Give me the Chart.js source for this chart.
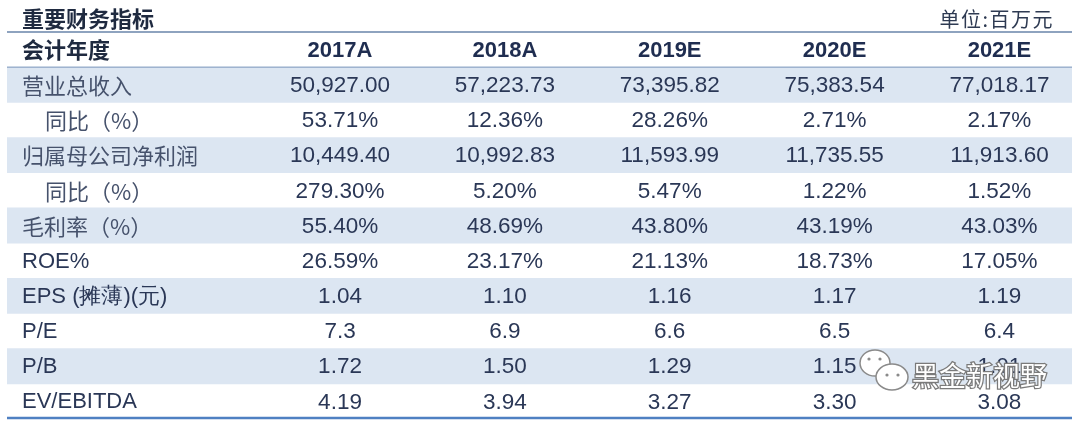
<!DOCTYPE html>
<html>
<head>
<meta charset="utf-8">
<script src="https://cdn.jsdelivr.net/npm/chart.js@4/dist/chart.umd.min.js"></script>
<style>
  html, body { margin: 0; padding: 0; background: #fff; }
</style>
</head>
<body>
<canvas id="myChart" width="1080" height="423"></canvas>
<script>
// table data
const title = '重要财务指标';
const unit = '单位:百万元';
const headLabel = '会计年度';
const years = ['2017A', '2018A', '2019E', '2020E', '2021E'];
const rowLabels = ['营业总收入', '同比（%）', '归属母公司净利润', '同比（%）', '毛利率（%）',
  'ROE%', 'EPS (摊薄)(元)', 'P/E', 'P/B', 'EV/EBITDA'];
const indented = [false, true, false, true, false, false, false, false, false, false];

const revenue = [50927.00, 57223.73, 73395.82, 75383.54, 77018.17];
const revenueYoY = [53.71, 12.36, 28.26, 2.71, 2.17];
const netProfit = [10449.40, 10992.83, 11593.99, 11735.55, 11913.60];
const netProfitYoY = [279.30, 5.20, 5.47, 1.22, 1.52];
const grossMargin = [55.40, 48.69, 43.80, 43.19, 43.03];
const roe = [26.59, 23.17, 21.13, 18.73, 17.05];
const eps = [1.04, 1.10, 1.16, 1.17, 1.19];
const pe = [7.3, 6.9, 6.6, 6.5, 6.4];
const pb = [1.72, 1.50, 1.29, 1.15, 1.01];
const evEbitda = [4.19, 3.94, 3.27, 3.30, 3.08];

const rowValues = [revenue, revenueYoY, netProfit, netProfitYoY, grossMargin, roe, eps, pe, pb, evEbitda];
const rowDecimals = [2, 2, 2, 2, 2, 2, 2, 1, 2, 2];
const rowPercent = [false, true, false, true, true, true, false, false, false, false];
const shadedRows = [true, false, true, false, true, false, true, false, true, false];

// x value range: label column on the left, year j sits at x = j + 1
const X_MIN = -1.02;
const X_MAX = 5.44;

const rowKeys = ['head'].concat(rowLabels.map((l, i) => 'r' + i));

function fmt(v, d, pct) {
  const s = v.toLocaleString('en-US', { minimumFractionDigits: d, maximumFractionDigits: d });
  return pct ? s + '%' : s;
}

const tablePlugin = {
  id: 'tableText',
  afterDatasetsDraw(chart) {
    const { ctx, chartArea, scales } = chart;
    const x = scales.x, y = scales.y;
    const left = chartArea.left, right = chartArea.right;
    const rowH = y.getPixelForValue(1) - y.getPixelForValue(0);
    ctx.save();

    // title + unit
    ctx.textBaseline = 'middle';
    ctx.fillStyle = '#1f2a40';
    ctx.font = 'bold 22px "Noto Sans CJK SC"';
    ctx.textAlign = 'left';
    ctx.fillText(title, left + 15, chartArea.top - 13);
    ctx.fillStyle = '#2e3a52';
    ctx.font = '20px "Noto Sans CJK SC"';
    ctx.letterSpacing = '1.5px';
    ctx.textAlign = 'right';
    ctx.fillText(unit, right - 18, chartArea.top - 13);
    ctx.letterSpacing = '0px';

    // rules
    ctx.strokeStyle = '#8ea3bf';
    ctx.lineWidth = 2;
    ctx.beginPath();
    ctx.moveTo(left, chartArea.top); ctx.lineTo(right, chartArea.top);
    ctx.stroke();
    ctx.strokeStyle = '#9fb3cf';
    ctx.lineWidth = 1.5;
    const headBottom = y.getPixelForValue(0) + rowH / 2;
    ctx.beginPath();
    ctx.moveTo(left, headBottom); ctx.lineTo(right, headBottom);
    ctx.stroke();
    ctx.strokeStyle = '#4f80c2';
    ctx.lineWidth = 2.5;
    ctx.beginPath();
    ctx.moveTo(left, chartArea.bottom - 1); ctx.lineTo(right, chartArea.bottom - 1);
    ctx.stroke();

    // header row
    const hy = y.getPixelForValue(0);
    ctx.fillStyle = '#1f2a40';
    ctx.font = 'bold 22px "Noto Sans CJK SC"';
    ctx.textAlign = 'left';
    ctx.fillText(headLabel, left + 15, hy);
    ctx.fillStyle = '#1f2d50';
    ctx.font = 'bold 22px "Liberation Sans"';
    ctx.textAlign = 'center';
    years.forEach((yr, j) => ctx.fillText(yr, x.getPixelForValue(j + 1), hy + 1));

    // body rows
    rowLabels.forEach((lab, i) => {
      const py = y.getPixelForValue(i + 1);
      ctx.textAlign = 'left';
      const latin = /^[A-Z]/.test(lab);
      ctx.fillStyle = latin ? '#2a3756' : '#46526c';
      ctx.font = latin ? '22px "Liberation Sans"' : '22px "Noto Sans CJK SC"';
      ctx.fillText(lab, left + (indented[i] ? 38 : 15), py + 1);
      ctx.fillStyle = '#2a3756';
      ctx.font = '22.5px "Liberation Sans"';
      ctx.textAlign = 'center';
      rowValues[i].forEach((v, j) => {
        ctx.fillText(fmt(v, rowDecimals[i], rowPercent[i]), x.getPixelForValue(j + 1), py + 1);
      });
    });

    // watermark
    const wx = right - 212, wy = chartArea.bottom - 50;
    ctx.lineWidth = 1.5;
    ctx.strokeStyle = '#8a8a8a';
    ctx.fillStyle = '#ffffff';
    ctx.beginPath(); ctx.ellipse(wx + 15, wy - 6, 15, 13, 0, 0, Math.PI * 2); ctx.fill(); ctx.stroke();
    ctx.beginPath(); ctx.ellipse(wx + 32, wy + 8, 16, 13, 0, 0, Math.PI * 2); ctx.fill(); ctx.stroke();
    ctx.fillStyle = '#8a8a8a';
    [[wx + 9, wy - 10], [wx + 20, wy - 10], [wx + 27, wy + 6], [wx + 38, wy + 6]].forEach(p => {
      ctx.beginPath(); ctx.arc(p[0], p[1], 1.6, 0, Math.PI * 2); ctx.fill();
    });
    ctx.font = '27px "Noto Sans CJK SC"';
    ctx.textAlign = 'left';
    ctx.lineWidth = 2.5;
    ctx.strokeStyle = '#7a7a7a';
    ctx.strokeText('黑金新视野', wx + 52, wy + 7);
    ctx.fillStyle = '#ffffff';
    ctx.fillText('黑金新视野', wx + 52, wy + 7);

    ctx.restore();
  }
};

const ctx = document.getElementById('myChart').getContext('2d');
new Chart(ctx, {
  type: 'bar',
  data: {
    labels: rowKeys,
    datasets: [{
      // row shading, one full-width band per shaded row
      data: [null].concat(shadedRows.map(s => (s ? [X_MIN, X_MAX] : null))),
      backgroundColor: '#dce6f2',
      borderWidth: 0,
      barPercentage: 1,
      categoryPercentage: 1
    }]
  },
  options: {
    indexAxis: 'y',
    responsive: false,
    animation: false,
    layout: { padding: { top: 32, left: 7, right: 8, bottom: 4 } },
    plugins: { legend: { display: false }, tooltip: { enabled: false } },
    scales: {
      x: { type: 'linear', min: X_MIN, max: X_MAX, display: false },
      y: { type: 'category', display: false }
    }
  },
  plugins: [tablePlugin]
});
</script>
</body>
</html>
